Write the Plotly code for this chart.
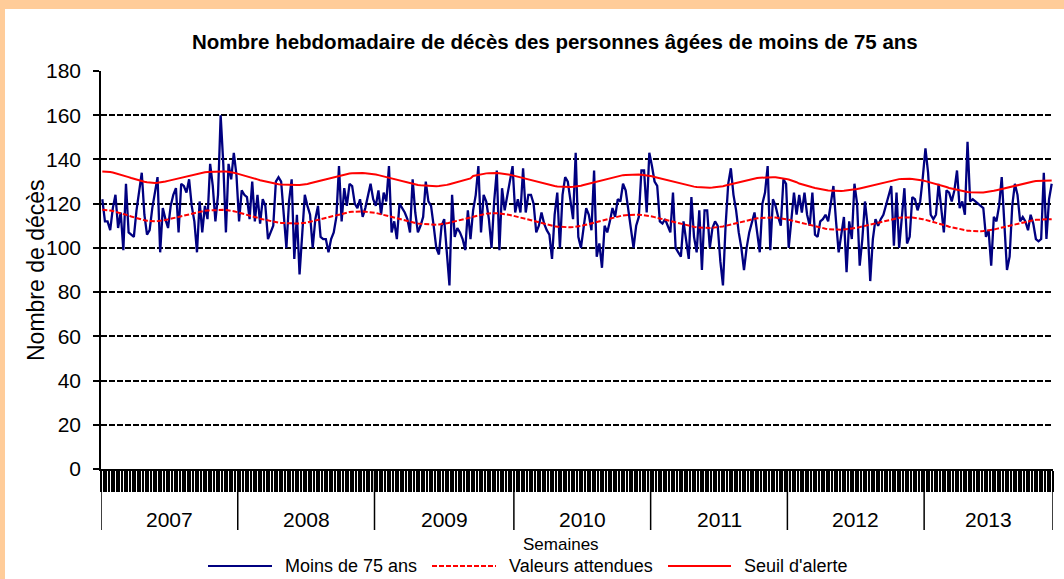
import plotly.graph_objects as go

# ---------------- data ----------------
years = ["2007", "2008", "2009", "2010", "2011", "2012", "2013"]
weeks_per_year = [52, 52, 53, 52, 52, 52, 49]

deces_2007 = [122, 112, 112, 108, 118, 124, 109, 116, 99, 129, 107, 106, 105, 117, 125, 134, 115, 106, 108, 118,
              125, 132, 98, 118, 113, 109, 119, 124, 127, 107, 129, 128, 125, 131, 119, 112, 98, 121, 107, 119,
              113, 138, 128, 112, 124, 160, 138, 107, 138, 131, 143, 133]
deces_2008 = [112, 126, 124, 123, 113, 130, 112, 124, 111, 122, 119, 104, 107, 110, 130, 132, 130, 115, 100, 121,
              131, 95, 115, 88, 108, 124, 119, 115, 100, 113, 119, 105, 104, 104, 98, 104, 107, 114, 137, 112,
              127, 119, 129, 128, 120, 118, 122, 114, 118, 124, 129, 122]
deces_2009 = [119, 126, 115, 125, 121, 137, 107, 112, 104, 120, 118, 116, 113, 107, 131, 116, 107, 110, 114, 130,
              121, 119, 110, 100, 97, 110, 113, 96, 83, 124, 105, 109, 107, 104, 99, 117, 104, 117, 124, 137,
              107, 124, 121, 113, 100, 121, 135, 99, 127, 117, 124, 130, 137]
deces_2010 = [116, 122, 116, 136, 116, 124, 124, 120, 107, 110, 116, 111, 108, 106, 95, 115, 125, 100, 124, 132,
              130, 122, 113, 143, 105, 100, 108, 118, 115, 108, 135, 96, 102, 91, 110, 107, 112, 118, 114, 122,
              121, 129, 126, 118, 109, 100, 110, 114, 135, 135, 116, 143]
deces_2011 = [137, 130, 128, 112, 111, 113, 110, 107, 125, 100, 98, 96, 112, 104, 95, 123, 105, 98, 117, 90,
              117, 117, 100, 109, 112, 110, 94, 83, 110, 129, 136, 124, 117, 107, 100, 90, 100, 107, 111, 116,
              107, 98, 120, 125, 137, 99, 122, 119, 114, 110, 131, 129]
deces_2012 = [100, 112, 125, 115, 124, 116, 125, 115, 110, 125, 106, 105, 112, 113, 115, 112, 120, 128, 112, 98,
              106, 114, 89, 112, 104, 129, 120, 92, 104, 121, 110, 85, 104, 113, 110, 113, 115, 119, 124, 128,
              101, 125, 100, 112, 127, 102, 105, 123, 122, 117, 121, 132]
deces_2013 = [145, 134, 115, 113, 115, 129, 119, 107, 126, 125, 121, 126, 135, 118, 121, 115, 148, 121, 122, 121,
              120, 119, 118, 105, 108, 92, 114, 112, 119, 132, 112, 90, 96, 119, 129, 124, 112, 114, 112, 108,
              115, 111, 104, 103, 104, 134, 104, 122, 129]

moins_75 = deces_2007 + deces_2008 + deces_2009 + deces_2010 + deces_2011 + deces_2012 + deces_2013

valeurs_attendues = [
    117.2, 117.2, 117.1, 116.9, 116.7, 116.4, 116.1, 115.7, 115.3, 114.9, 114.6, 114.2, 113.8, 113.4, 113.1, 112.8,
    112.5, 112.3, 112.1, 112.0, 112.0, 112.1, 112.2, 112.4, 112.6, 112.9, 113.2, 113.5, 113.8, 114.1, 114.4, 114.7,
    115.0, 115.3, 115.6, 115.9, 116.2, 116.4, 116.6, 116.8, 116.9, 117.0, 117.1, 117.2, 117.2, 117.2, 117.2, 117.1,
    117.0, 116.8, 116.6, 116.3, 116.0, 115.7, 115.4, 115.0, 114.6, 114.3, 113.9, 113.6, 113.2, 112.9, 112.6, 112.3,
    112.0, 111.8, 111.6, 111.4, 111.3, 111.2, 111.1, 111.0, 111.0, 111.0, 111.0, 111.0, 111.1, 111.3, 111.5, 111.8,
    112.1, 112.4, 112.7, 113.0, 113.4, 113.7, 114.0, 114.4, 114.7, 115.0, 115.3, 115.6, 115.8, 116.0, 116.2, 116.3,
    116.4, 116.5, 116.5, 116.5, 116.4, 116.3, 116.2, 116.0, 115.8, 115.5, 115.2, 114.9, 114.6, 114.3, 113.9, 113.6,
    113.3, 112.9, 112.6, 112.3, 112.0, 111.7, 111.5, 111.2, 111.0, 110.9, 110.8, 110.7, 110.6, 110.5, 110.5, 110.5,
    110.6, 110.7, 110.9, 111.1, 111.4, 111.7, 112.0, 112.3, 112.6, 113.0, 113.3, 113.6, 114.0, 114.3, 114.6, 114.9,
    115.1, 115.3, 115.5, 115.6, 115.7, 115.7, 115.7, 115.6, 115.5, 115.4, 115.2, 114.9, 114.6, 114.3, 114.0, 113.7,
    113.3, 113.0, 112.6, 112.3, 111.9, 111.6, 111.3, 111.0, 110.7, 110.4, 110.2, 110.0, 109.8, 109.6, 109.5, 109.4,
    109.3, 109.3, 109.3, 109.4, 109.5, 109.7, 109.9, 110.2, 110.5, 110.8, 111.1, 111.4, 111.8, 112.1, 112.5, 112.8,
    113.2, 113.5, 113.8, 114.1, 114.3, 114.5, 114.7, 114.8, 114.9, 115.0, 115.0, 115.0, 115.0, 114.9, 114.8, 114.7,
    114.5, 114.2, 113.9, 113.6, 113.3, 113.0, 112.6, 112.3, 112.0, 111.6, 111.3, 111.0, 110.7, 110.4, 110.1, 109.9,
    109.7, 109.5, 109.3, 109.2, 109.1, 109.0, 109.0, 109.0, 109.1, 109.2, 109.3, 109.5, 109.7, 110.0, 110.3, 110.6,
    110.9, 111.2, 111.5, 111.8, 112.1, 112.4, 112.7, 112.9, 113.2, 113.4, 113.5, 113.6, 113.7, 113.8, 113.8, 113.8,
    113.7, 113.6, 113.5, 113.3, 113.0, 112.7, 112.4, 112.1, 111.8, 111.4, 111.1, 110.8, 110.5, 110.2, 109.9, 109.6,
    109.3, 109.1, 108.9, 108.7, 108.5, 108.4, 108.3, 108.2, 108.2, 108.2, 108.3, 108.4, 108.5, 108.7, 108.9, 109.1,
    109.4, 109.7, 110.0, 110.3, 110.6, 110.9, 111.2, 111.5, 111.8, 112.1, 112.4, 112.7, 113.0, 113.2, 113.4, 113.6,
    113.7, 113.8, 113.8, 113.8, 113.7, 113.6, 113.5, 113.3, 113.0, 112.7, 112.4, 112.0, 111.7, 111.3, 111.0, 110.6,
    110.3, 110.0, 109.6, 109.3, 109.0, 108.7, 108.4, 108.2, 108.0, 107.8, 107.7, 107.6, 107.5, 107.5, 107.5, 107.6,
    107.7, 107.9, 108.1, 108.3, 108.6, 108.9, 109.2, 109.5, 109.8, 110.1, 110.4, 110.7, 111.0, 111.3, 111.6, 111.9,
    112.1, 112.3, 112.5, 112.7, 112.8, 112.9, 113.0, 113.0, 113.0, 113.0]

seuil_alerte = [
    134.6, 134.6, 134.5, 134.3, 134.1, 133.8, 133.5, 133.1, 132.7, 132.3, 132.0, 131.6, 131.2, 130.8, 130.5, 130.2,
    129.9, 129.7, 129.5, 129.4, 129.4, 129.5, 129.6, 129.8, 130.0, 130.3, 130.6, 130.9, 131.2, 131.5, 131.8, 132.1,
    132.4, 132.7, 133.0, 133.3, 133.6, 133.8, 134.0, 134.2, 134.3, 134.4, 134.5, 134.6, 134.6, 134.6, 134.6, 134.5,
    134.4, 134.2, 134.0, 133.7, 133.4, 133.1, 132.8, 132.4, 132.0, 131.7, 131.3, 131.0, 130.6, 130.3, 130.0, 129.7,
    129.4, 129.2, 129.0, 128.8, 128.7, 128.6, 128.5, 128.4, 128.4, 128.4, 128.4, 128.4, 128.5, 128.7, 128.9, 129.2,
    129.5, 129.8, 130.1, 130.4, 130.8, 131.1, 131.4, 131.8, 132.1, 132.4, 132.7, 133.0, 133.2, 133.4, 133.6, 133.7,
    133.8, 133.9, 133.9, 133.9, 133.8, 133.7, 133.6, 133.4, 133.2, 132.9, 132.6, 132.3, 132.0, 131.7, 131.3, 131.0,
    130.7, 130.3, 130.0, 129.7, 129.4, 129.1, 128.9, 128.6, 128.4, 128.3, 128.2, 128.1, 128.0, 127.9, 127.9, 127.9,
    128.0, 128.1, 128.3, 128.5, 128.8, 129.1, 129.4, 129.7, 130.0, 130.4, 130.7, 131.0, 131.4, 132.5, 132.8, 133.1,
    133.3, 133.5, 133.7, 133.8, 133.9, 133.9, 133.9, 133.8, 133.7, 133.6, 133.4, 133.1, 132.8, 132.5, 132.2, 131.9,
    131.5, 131.2, 130.8, 130.5, 130.1, 129.8, 129.5, 129.2, 128.9, 128.6, 128.4, 128.2, 128.0, 127.8, 127.7, 127.6,
    127.5, 127.5, 127.5, 127.6, 127.7, 127.9, 128.1, 128.4, 128.7, 129.0, 129.3, 129.6, 130.0, 130.3, 130.7, 131.0,
    131.4, 131.7, 132.0, 132.3, 132.5, 132.7, 132.9, 133.0, 133.1, 133.2, 133.2, 133.2, 133.2, 133.1, 133.0, 132.9,
    132.7, 132.4, 132.1, 131.8, 131.5, 131.2, 130.8, 130.5, 130.2, 129.8, 129.5, 129.2, 128.9, 128.6, 128.3, 128.1,
    127.9, 127.7, 127.5, 127.4, 127.3, 127.2, 127.2, 127.2, 127.3, 127.4, 127.5, 127.7, 127.9, 128.2, 128.5, 128.8,
    129.1, 129.4, 129.7, 130.0, 130.3, 130.6, 130.9, 131.1, 131.4, 131.6, 131.7, 131.8, 131.9, 132.0, 132.0, 132.0,
    131.9, 131.8, 131.7, 131.5, 131.2, 130.9, 130.6, 130.2, 129.7, 129.1, 128.7, 128.3, 128.0, 127.7, 127.4, 127.1,
    126.8, 126.6, 126.4, 126.2, 126.0, 125.9, 125.8, 125.7, 125.7, 125.7, 125.8, 125.9, 126.0, 126.2, 126.4, 126.6,
    126.9, 127.2, 127.5, 127.8, 128.1, 128.4, 128.7, 129.0, 129.3, 129.6, 129.9, 130.2, 130.5, 130.7, 130.9, 131.1,
    131.2, 131.3, 131.3, 131.3, 131.2, 131.1, 131.0, 130.8, 130.5, 130.2, 129.9, 129.5, 129.2, 128.8, 128.5, 128.1,
    127.8, 127.5, 127.1, 126.8, 126.5, 126.2, 125.9, 125.7, 125.5, 125.3, 125.2, 125.1, 125.0, 125.0, 125.0, 125.1,
    125.2, 125.4, 125.6, 125.8, 126.1, 126.4, 126.7, 127.0, 127.3, 127.6, 127.9, 128.2, 128.5, 128.8, 129.1, 129.4,
    129.6, 129.8, 130.0, 130.2, 130.3, 130.4, 130.5, 130.5, 130.5, 130.5]

y_ticks = [0, 20, 40, 60, 80, 100, 120, 140, 160, 180]

# ---------------- figure ----------------
n = len(moins_75)
weeks = list(range(n))

FONT = "Arial, Liberation Sans, sans-serif"
W, H = 1064, 579
L, R, T, B = 101, 11, 71, 110
pw, ph = W - L - R, H - T - B


def px_x(xp):
    return (xp - L) / pw


def px_y(yp):
    return (H - B - yp) / ph


series = [
    dict(name="Moins de 75 ans", y=moins_75, color="#000080", dash="solid", width=2.3),
    dict(name="Valeurs attendues", y=valeurs_attendues, color="#FF0000", dash="5px,2px", width=2),
    dict(name="Seuil d'alerte", y=seuil_alerte, color="#FF0000", dash="solid", width=2),
]

fig = go.Figure()
for s in series:
    fig.add_trace(go.Scatter(x=weeks[:len(s["y"])], y=s["y"], mode="lines", name=s["name"],
                             line=dict(color=s["color"], width=s["width"], dash=s["dash"]),
                             showlegend=False))

shapes = []
# white panel on peach background
shapes.append(dict(type="rect", xref="paper", yref="paper", x0=px_x(5), x1=px_x(1075), y0=px_y(600),
                   y1=px_y(9), fillcolor="white", line=dict(width=0), layer="below"))
# year separators
bounds = [-0.5]
for w in weeks_per_year:
    bounds.append(bounds[-1] + w)
for b in bounds:
    shapes.append(dict(type="line", xref="x", yref="paper", x0=b, x1=b, y0=0, y1=px_y(530),
                       line=dict(color="black", width=1.5)))

annotations = []
for i, yr in enumerate(years):
    annotations.append(dict(x=(bounds[i] + bounds[i + 1]) / 2, y=px_y(519), xref="x", yref="paper",
                            text=yr, showarrow=False, font=dict(family=FONT, size=21, color="black"),
                            xanchor="center", yanchor="middle"))
annotations.append(dict(x=px_x(561), y=px_y(544), xref="paper", yref="paper", text="Semaines",
                        showarrow=False, font=dict(family=FONT, size=17, color="black"),
                        xanchor="center", yanchor="middle"))
annotations.append(dict(x=px_x(555), y=px_y(42), xref="paper", yref="paper",
                        text="<b>Nombre hebdomadaire de décès des personnes âgées de moins de 75 ans</b>",
                        showarrow=False, font=dict(family=FONT, size=20.5, color="black"),
                        xanchor="center", yanchor="middle"))
annotations.append(dict(x=px_x(36), y=0.5, xref="paper", yref="paper", text="Nombre de décès",
                        textangle=-90, showarrow=False, font=dict(family=FONT, size=23, color="black"),
                        xanchor="center", yanchor="middle"))

# legend (drawn entries: sample line + label)
legend_pos = [(208, 272, 283), (432, 496, 507), (668, 731, 742)]
for s, (lx0, lx1, tx) in zip(series, legend_pos):
    shapes.append(dict(type="line", xref="paper", yref="paper", x0=px_x(lx0), x1=px_x(lx1),
                       y0=px_y(566), y1=px_y(566),
                       line=dict(color=s["color"], width=2, dash=s["dash"])))
    annotations.append(dict(x=px_x(tx), y=px_y(566), xref="paper", yref="paper", text=s["name"],
                            showarrow=False, font=dict(family=FONT, size=18, color="black"),
                            xanchor="left", yanchor="middle"))

fig.update_layout(
    width=W, height=H,
    margin=dict(l=L, r=R, t=T, b=B, pad=0),
    paper_bgcolor="#FFCC99",
    plot_bgcolor="white",
    font=dict(family=FONT, color="black"),
    showlegend=False,
    shapes=shapes,
    annotations=annotations,
)
fig.update_xaxes(range=[bounds[0], bounds[-1]], showgrid=False, zeroline=False,
                 showline=True, linecolor="black", linewidth=1.5,
                 tickmode="array", tickvals=[bounds[0] + k for k in range(n + 1)],
                 ticks="outside", ticklen=21, tickwidth=2.3, tickcolor="black",
                 showticklabels=False)
fig.update_yaxes(range=[0, 180], tickmode="array", tickvals=y_ticks,
                 showgrid=True, gridcolor="black", gridwidth=1.6, griddash="6px,2px",
                 zeroline=False, showline=True, linecolor="black", linewidth=1.5,
                 ticks="outside", ticklen=6, tickwidth=1.5, tickcolor="black",
                 tickfont=dict(family=FONT, size=21, color="black"), ticklabelstandoff=8)

fig.write_html("out.html", config={"displayModeBar": False},
               post_script="document.body.style.margin='0';document.body.style.overflow='hidden';")
